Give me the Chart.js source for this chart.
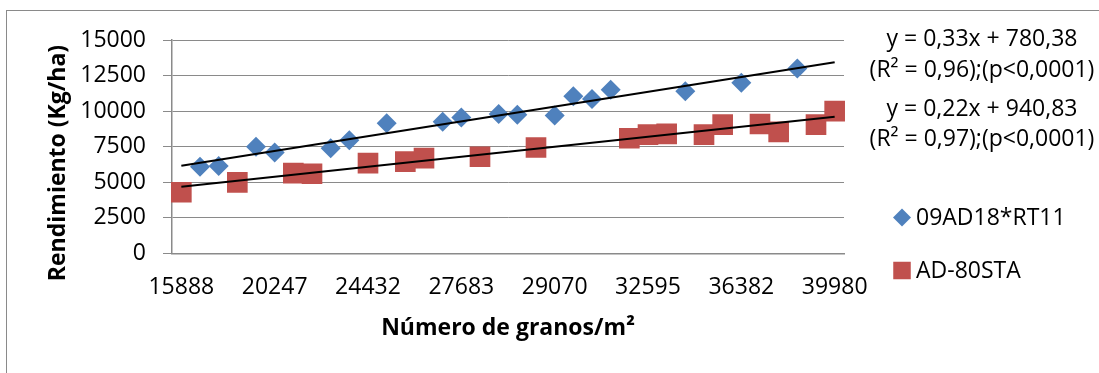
<!DOCTYPE html>
<html>
<head>
<meta charset="utf-8">
<script src="https://cdn.jsdelivr.net/npm/chart.js@4/dist/chart.umd.min.js"></script>
<style>
  html, body { margin: 0; padding: 0; background: #fff; overflow: hidden; }
  #wrap { position: relative; width: 1099px; height: 373px; }
  #frame { position: absolute; left: 6px; top: 10px; width: 1200px; height: 500px; border: 1px solid #8a8a8a; box-sizing: border-box; pointer-events: none; }
  canvas { position: absolute; left: 0; top: 0; }
</style>
</head>
<body>
<div id="wrap">
  <div id="frame"></div>
  <canvas id="c" width="1099" height="373"></canvas>
</div>
<script>
// Categories (36 slots, labels shown every 5th)
const categories = [
  '15888','','','','',
  '20247','','','','',
  '24432','','','','',
  '27683','','','','',
  '29070','','','','',
  '32595','','','','',
  '36382','','','','',
  '39980'
];
const yTicks = [0, 2500, 5000, 7500, 10000, 12500, 15000];

const seriesNames = ['09AD18*RT11', 'AD-80STA'];

const blueValues = [
  null, 6100, 6150, null, 7500, 7100, null, null, 7400, 7950,
  null, 9150, null, null, 9250, 9550, null, 9800, 9750, null,
  9700, 11050, 10850, 11500, null, null, null, 11400, null, null,
  12000, null, null, 13000, null, null
];
const redValues = [
  4300, null, null, 5000, null, null, 5650, 5600, null, null,
  6350, null, 6450, 6700, null, null, 6800, null, null, 7450,
  null, null, null, null, 8100, 8350, 8400, null, 8350, 9050,
  null, 9100, 8550, null, 9050, 10000
];
// Trend line end values (first and last category)
const blueTrend = [6170, 13430];
const redTrend = [4690, 9610];

const equations = [
  'y = 0,33x + 780,38',
  '(R\u00B2 = 0,96);(p<0,0001)',
  'y = 0,22x + 940,83',
  '(R\u00B2 = 0,97);(p<0,0001)'
];
const yTitle = 'Rendimiento (Kg/ha)';
const xTitle = 'N\u00FAmero de granos/m\u00B2';

const BLUE = '#4F81BD';
const RED = '#C0504D';
const GRID = '#8a8a8a';
const FONT = "'Open Sans', 'Liberation Sans', sans-serif";
const FS = 23;

function trendData(ends) {
  const arr = categories.map(() => null);
  arr[0] = ends[0];
  arr[categories.length - 1] = ends[1];
  return arr;
}

const overlay = {
  id: 'overlay',
  afterDraw(chart) {
    const ctx = chart.ctx;
    ctx.save();
    ctx.fillStyle = '#000';
    ctx.font = FS + 'px ' + FONT;
    ctx.textAlign = 'center';
    ctx.textBaseline = 'middle';
    const eqY = [39, 70, 109, 139];
    equations.forEach((t, i) => ctx.fillText(t, 982, eqY[i]));

    // legend
    const lx = 902;
    const ly = [217.5, 270.5];
    ctx.fillStyle = BLUE;
    ctx.beginPath();
    ctx.moveTo(lx, ly[0] - 9);
    ctx.lineTo(lx + 9, ly[0]);
    ctx.lineTo(lx, ly[0] + 9);
    ctx.lineTo(lx - 9, ly[0]);
    ctx.closePath();
    ctx.fill();
    ctx.fillStyle = RED;
    ctx.fillRect(lx - 8.75, ly[1] - 8.75, 17.5, 17.5);
    ctx.fillStyle = '#000';
    ctx.textAlign = 'left';
    ctx.fillText(seriesNames[0], 916, ly[0] + 1);
    ctx.fillText(seriesNames[1], 916, ly[1] + 1);

    // y title
    ctx.translate(58, 163);
    ctx.rotate(-Math.PI / 2);
    ctx.textAlign = 'center';
    ctx.font = 'bold ' + FS + 'px ' + FONT;
    ctx.fillText(yTitle, 0, 0);
    ctx.restore();
  }
};

new Chart(document.getElementById('c'), {
  type: 'line',
  data: {
    labels: categories,
    datasets: [
      {
        label: 'trend ' + seriesNames[0],
        data: trendData(blueTrend),
        borderColor: '#000', borderWidth: 2, pointRadius: 0,
        spanGaps: true, fill: false, order: 0
      },
      {
        label: 'trend ' + seriesNames[1],
        data: trendData(redTrend),
        borderColor: '#000', borderWidth: 2, pointRadius: 0,
        spanGaps: true, fill: false, order: 0
      },
      {
        label: seriesNames[0],
        data: blueValues,
        showLine: false,
        pointStyle: 'rectRot', pointRadius: 10,
        backgroundColor: BLUE, borderColor: BLUE, borderWidth: 0,
        order: 1
      },
      {
        label: seriesNames[1],
        data: redValues,
        showLine: false,
        pointStyle: 'rect', pointRadius: 14.6,
        backgroundColor: RED, borderColor: RED, borderWidth: 0,
        order: 2
      }
    ]
  },
  options: {
    responsive: false,
    animation: false,
    layout: { padding: { left: 0, top: 40, right: 255, bottom: 0 } },
    plugins: { legend: { display: false }, tooltip: { enabled: false } },
    scales: {
      x: {
        offset: true,
        grid: { display: false, drawTicks: false },
        border: { color: GRID, width: 1.5 },
        ticks: {
          autoSkip: false, maxRotation: 0, padding: 20,
          color: '#000', font: { family: FONT, size: FS },
          callback: (v, i) => categories[i]
        },
        title: {
          display: true, text: xTitle, color: '#000',
          font: { family: FONT, size: FS, weight: 'bold' },
          padding: { top: 4, bottom: 31 }
        },
        afterFit: (s) => { s.height = 119.5; }
      },
      y: {
        min: 0, max: 15000,
        afterBuildTicks: (s) => { s.ticks = yTicks.map(v => ({ value: v })); },
        grid: { color: GRID, lineWidth: 1, tickLength: 9, drawTicks: true },
        border: { color: GRID, width: 1.5 },
        ticks: {
          padding: 17, color: '#000', font: { family: FONT, size: FS },
          callback: (v) => String(v)
        },
        afterFit: (s) => { s.width = 172; }
      }
    }
  },
  plugins: [overlay]
});
</script>
</body>
</html>
